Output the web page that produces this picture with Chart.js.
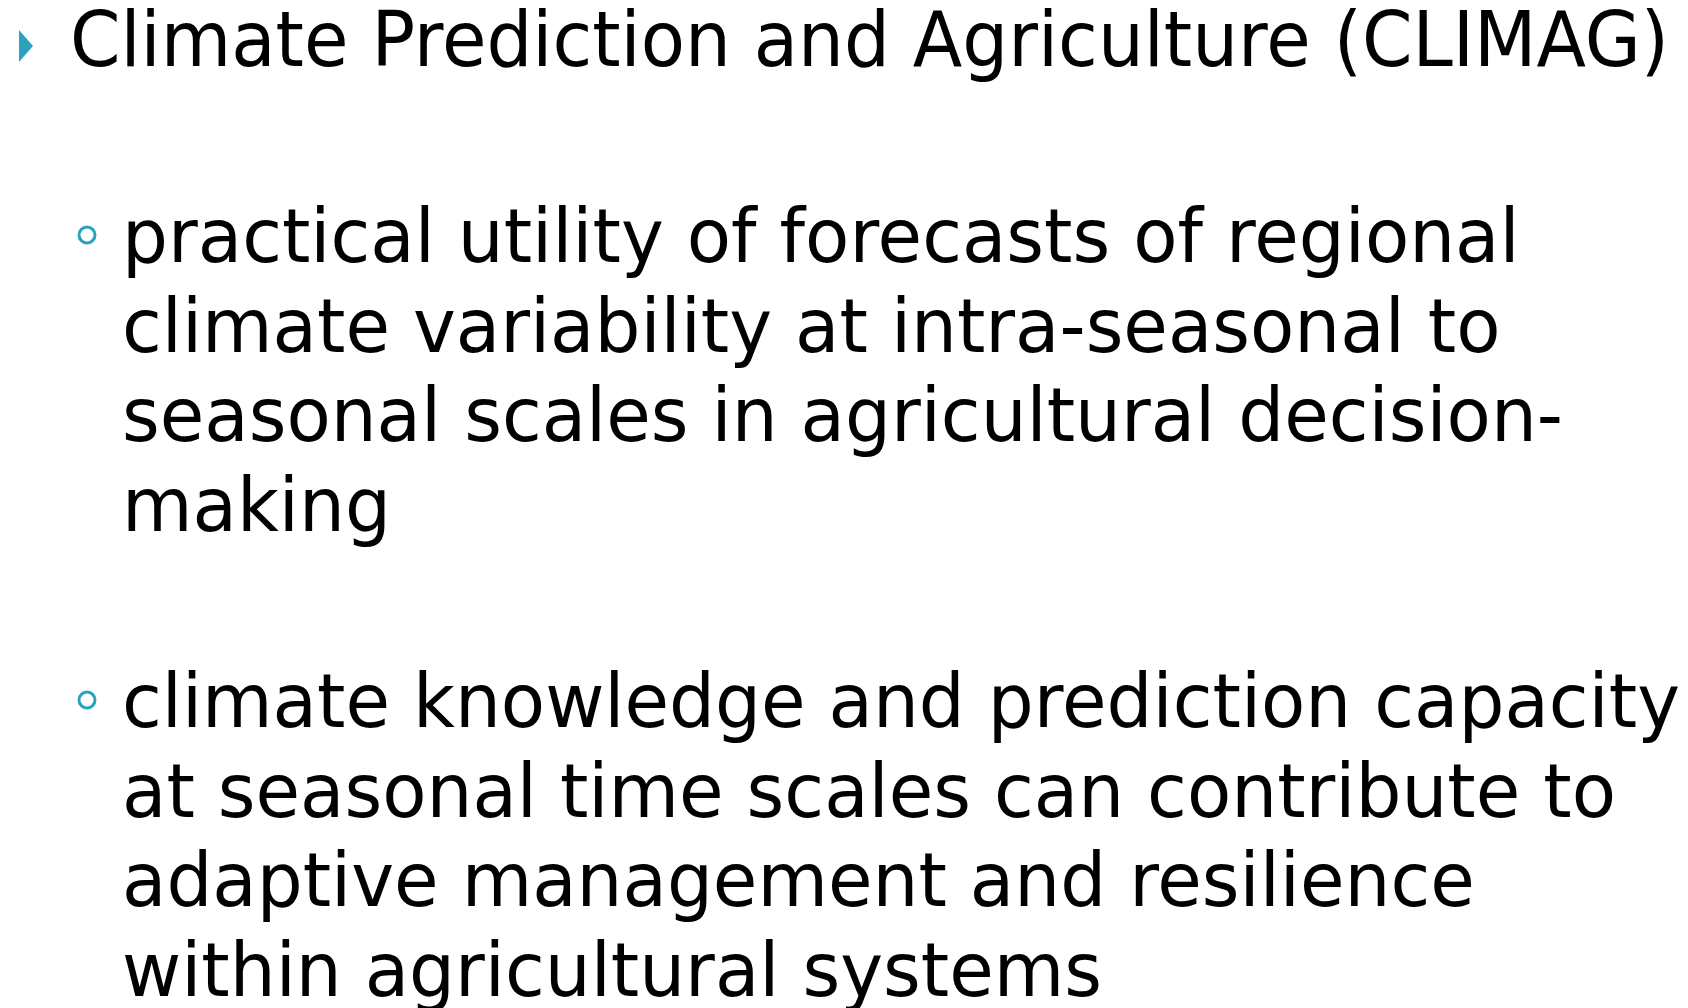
<!DOCTYPE html>
<html>
<head>
<meta charset="utf-8">
<script src="https://cdn.jsdelivr.net/npm/chart.js@4.4.1/dist/chart.umd.min.js"></script>
<style>
  html, body { margin: 0; padding: 0; background: #fff; }
  body { width: 1688px; height: 1008px; position: relative; overflow: hidden;
         font-family: "DejaVu Sans", Verdana, sans-serif; color: #000; }
  #slide { position: absolute; left: 0; top: 0; width: 1688px; height: 1008px; }
  .title { position: absolute; left: 70px; top: -5px; font-size: 77px; line-height: 90px;
           white-space: nowrap; transform-origin: 0 0; }
  .item { position: absolute; left: 122px; font-size: 74px; line-height: 89.5px;
          white-space: nowrap; transform-origin: 0 0; }
  .item div { height: 89.5px; }
  .item span, .title span { display: inline-block; }
  #markers { position: absolute; left: 0; top: 0; pointer-events: none; }
</style>
</head>
<body>
<div id="slide"></div>
<canvas id="markers" width="1688" height="1008"></canvas>
<script>
// slide content
const heading = 'Climate Prediction and Agriculture (CLIMAG)';
const bullets = [
  ['practical utility of forecasts of regional',
   'climate variability at intra-seasonal to',
   'seasonal scales in agricultural decision-',
   'making'],
  ['climate knowledge and prediction capacity',
   'at seasonal time scales can contribute to',
   'adaptive management and resilience',
   'within agricultural systems']
];
const bulletTops = [192, 657];
const titleWidth = 1599;   // rendered width of the heading in the slide
const bodyWidth = 1558;    // widest body line
const accent = '#2ba3bf';

document.addEventListener('DOMContentLoaded', function() {
    const slide = document.getElementById('slide');

    const title = document.createElement('div');
    title.className = 'title';
    const ts = document.createElement('span');
    ts.textContent = heading;
    title.appendChild(ts);
    slide.appendChild(title);
    title.style.transform = 'scaleX(' + (titleWidth / ts.getBoundingClientRect().width) + ')';

    const items = [];
    let widest = 0;
    bullets.forEach(function(lines, i) {
        const item = document.createElement('div');
        item.className = 'item';
        item.style.top = bulletTops[i] + 'px';
        lines.forEach(function(t) {
            const ln = document.createElement('div');
            const sp = document.createElement('span');
            sp.textContent = t;
            ln.appendChild(sp);
            item.appendChild(ln);
        });
        slide.appendChild(item);
        item.querySelectorAll('span').forEach(function(sp) {
            widest = Math.max(widest, sp.getBoundingClientRect().width);
        });
        items.push(item);
    });
    items.forEach(function(item) {
        item.style.transform = 'scaleX(' + (bodyWidth / widest) + ')';
    });

    // marker positions follow the rendered text
    const tr = title.getBoundingClientRect();
    const headPts = [{ x: tr.left - 44, y: tr.top + 51 }];
    const subPts = items.map(function(el) {
        const r = el.firstChild.getBoundingClientRect();
        return { x: r.left - 35, y: r.top + 43 };
    });

    // narrow right-pointing triangle
    const tri = document.createElement('canvas');
    tri.width = 16; tri.height = 32;
    const tc = tri.getContext('2d');
    tc.fillStyle = accent;
    tc.beginPath();
    tc.moveTo(1, 0); tc.lineTo(15, 16); tc.lineTo(1, 32); tc.closePath();
    tc.fill();

    new Chart(document.getElementById('markers').getContext('2d'), {
        type: 'scatter',
        data: {
            datasets: [{
                data: headPts,
                pointStyle: tri,
                pointRadius: 16
            }, {
                data: subPts,
                pointStyle: 'circle',
                pointRadius: 8,
                borderWidth: 3,
                borderColor: accent,
                backgroundColor: '#fff'
            }]
        },
        options: {
            responsive: false,
            animation: false,
            events: [],
            layout: { padding: 0, autoPadding: false },
            plugins: { legend: { display: false }, tooltip: { enabled: false } },
            scales: {
                x: { type: 'linear', min: 0, max: 1688, display: false },
                y: { type: 'linear', min: 0, max: 1008, reverse: true, display: false }
            }
        }
    });
});
</script>
</body>
</html>
